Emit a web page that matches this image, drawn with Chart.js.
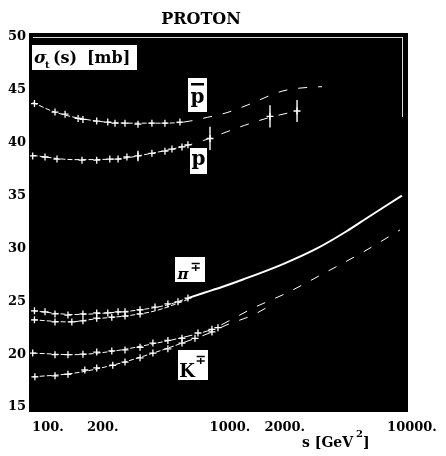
<!DOCTYPE html>
<html>
<head>
<meta charset="utf-8">
<script src="https://cdn.jsdelivr.net/npm/chart.js@4.4.1/dist/chart.umd.min.js"></script>
<style>
  html, body { margin: 0; padding: 0; background: #fff; }
</style>
</head>
<body>
<canvas id="chart" width="446" height="456"></canvas>
<script>
// total cross sections sigma_t [mb] vs s [GeV^2]
const xTicks = [100, 200, 1000, 2000, 10000];
const yTicks = [15, 20, 25, 30, 35, 40, 45, 50];

// pbar p
const pbarS   = [91, 118, 134, 158, 168, 200, 230, 252, 286, 337, 402, 474, 573];
const pbarSig = [43.7, 42.9, 42.7, 42.3, 42.2, 42.05, 41.95, 41.85, 41.85, 41.75, 41.85, 41.85, 41.95];
const pbarFitS   = [89, 120, 200, 300, 450, 600, 810, 1040, 1340, 2110, 2970, 3460];
const pbarFitSig = [43.8, 42.85, 42.05, 41.85, 41.85, 41.95, 42.4, 42.85, 43.55, 44.9, 45.25, 45.3];

// p p
const pS   = [89, 104, 121, 166, 200, 236, 262, 293, 337, 402, 474, 518, 588, 634, 838, 1790, 2520];
const pSig = [38.75, 38.65, 38.45, 38.35, 38.35, 38.45, 38.45, 38.65, 38.75, 39.0, 39.2, 39.4, 39.6, 39.8, 40.4, 42.5, 43.0];
const pErr = [0, 0, 0, 0, 0, 0, 0, 0, 0.5, 0, 0, 0, 0, 0, 1.1, 1.05, 1.05];
const pFitS   = [89, 150, 250, 400, 600, 770, 990, 1300, 1790, 2520];
const pFitSig = [38.8, 38.4, 38.45, 39.0, 39.65, 40.2, 40.9, 41.65, 42.4, 43.0];

// pi- p and pi+ p
const piMinusS   = [91, 104, 118, 139, 168, 200, 230, 262, 286, 346, 418, 492, 559, 634];
const piMinusSig = [24.1, 24.0, 23.8, 23.7, 23.8, 23.9, 23.9, 24.0, 24.0, 24.2, 24.45, 24.75, 24.95, 25.3];
const piFitS   = [89, 150, 250, 350, 500, 634, 786, 975, 1272, 2110, 3243, 4742, 6105, 9500];
const piFitSig = [24.1, 23.75, 23.95, 24.2, 24.7, 25.3, 25.83, 26.35, 27.06, 28.52, 30.0, 31.65, 32.88, 35.0];
const piPlusS   = [91, 118, 146, 168, 200, 242, 286, 346];
const piPlusSig = [23.25, 23.05, 23.05, 23.15, 23.4, 23.5, 23.6, 23.8];
const piPlusFitS   = [89, 140, 200, 300, 420, 640];
const piPlusFitSig = [23.25, 23.05, 23.35, 23.65, 24.1, 25.2];

// K- p and K+ p
const kMinusS   = [89, 118, 139, 168, 200, 242, 286, 346, 407, 492, 588, 720, 859];
const kMinusSig = [20.1, 19.95, 19.95, 20.0, 20.2, 20.3, 20.4, 20.65, 21.05, 21.3, 21.5, 22.0, 22.35];
const kMinusFitS   = [89, 150, 250, 400, 600, 860, 1013, 1443, 2220, 3500, 5800, 9270];
const kMinusFitSig = [20.1, 19.95, 20.3, 20.95, 21.6, 22.35, 22.95, 24.35, 25.8, 27.6, 29.65, 31.75];
const kPlusS   = [91.5, 118, 139, 172, 200, 245, 286, 346, 407, 492, 588, 693, 859, 927];
const kPlusSig = [17.85, 17.95, 18.1, 18.5, 18.7, 18.95, 19.25, 19.65, 20.1, 20.5, 21.05, 21.5, 22.1, 22.5];
const kPlusFitS   = [89, 150, 250, 400, 600, 860, 1013, 1443, 1800];
const kPlusFitSig = [17.85, 18.2, 19.0, 20.05, 21.1, 22.1, 22.7, 23.7, 24.6];

const pts = (xs, ys) => xs.map((v, i) => ({ x: v, y: ys[i] }));

const dashFit = (ctx) => (ctx.p0.parsed.x >= 600 ? [9, 11] : [5, 2]);

function fit(xs, ys, extra) {
  return Object.assign({
    type: 'line',
    data: pts(xs, ys),
    borderColor: '#fff',
    borderWidth: 1,
    pointRadius: 0,
    cubicInterpolationMode: 'monotone',
    segment: { borderDash: dashFit },
  }, extra || {});
}

function marks(xs, ys, errs) {
  return {
    type: 'line',
    data: pts(xs, ys),
    showLine: false,
    pointStyle: 'cross',
    pointRadius: 3.5,
    pointBorderWidth: 1.3,
    pointBorderColor: '#fff',
    errs: errs,
  };
}

const SERIF = '"DejaVu Serif", "Liberation Serif", serif';

const frame = {
  id: 'frame',
  beforeDraw(chart) {
    const { ctx, chartArea: a } = chart;
    ctx.save();
    ctx.fillStyle = '#000';
    ctx.fillRect(a.left - 1, a.top - 4, a.right - a.left + 3, a.bottom - a.top + 9);
    ctx.strokeStyle = 'rgba(255,255,255,0.85)';
    ctx.lineWidth = 1;
    ctx.beginPath();
    ctx.moveTo(a.left + 3, a.top + 0.5);
    ctx.lineTo(a.right - 3, a.top + 0.5);
    ctx.moveTo(a.right - 3.5, a.top);
    ctx.lineTo(a.right - 3.5, a.top + 80);
    ctx.stroke();
    ctx.restore();
  },
  afterDatasetsDraw(chart) {
    const { ctx, scales: { x, y } } = chart;
    // vertical error bars
    ctx.save();
    ctx.strokeStyle = '#fff';
    ctx.lineWidth = 1.4;
    chart.data.datasets.forEach((ds) => {
      if (!ds.errs) return;
      ds.data.forEach((pt, i) => {
        const e = ds.errs[i];
        if (!e) return;
        const px = x.getPixelForValue(pt.x);
        ctx.beginPath();
        ctx.moveTo(px, y.getPixelForValue(pt.y - e));
        ctx.lineTo(px, y.getPixelForValue(pt.y + e));
        ctx.stroke();
      });
    });

    // white label boxes
    ctx.fillStyle = '#fff';
    ctx.fillRect(32, 45, 105, 25);
    ctx.fillRect(188, 78, 19, 34);
    ctx.fillRect(190, 148, 17, 26);
    ctx.fillRect(175, 257, 30, 25);
    ctx.fillRect(178, 350, 30, 30);

    ctx.fillStyle = '#000';
    ctx.textBaseline = 'alphabetic';
    ctx.textAlign = 'left';
    ctx.font = 'italic bold 17px ' + SERIF;
    ctx.fillText('σ', 34, 63);
    ctx.font = 'bold 10px ' + SERIF;
    ctx.fillText('t', 45, 68);
    ctx.font = 'bold 16px ' + SERIF;
    ctx.fillText('(s)', 53, 63);
    ctx.fillText('[mb]', 87, 63);

    ctx.textAlign = 'center';
    ctx.font = 'bold 20px ' + SERIF;
    ctx.fillText('p', 197.5, 103);
    ctx.fillRect(191, 83, 13, 2.5);
    ctx.fillText('p', 198.5, 165);

    ctx.font = 'italic bold 15px ' + SERIF;
    ctx.fillText('π', 183, 279);
    ctx.font = 'bold 13px "DejaVu Sans", sans-serif';
    ctx.fillText('∓', 196, 271);

    ctx.font = 'bold 18px ' + SERIF;
    ctx.fillText('K', 187, 377);
    ctx.font = 'bold 13px "DejaVu Sans", sans-serif';
    ctx.fillText('∓', 201, 364);
    ctx.restore();
  },
  afterDraw(chart) {
    const { ctx } = chart;
    ctx.save();
    ctx.fillStyle = '#000';
    ctx.textBaseline = 'alphabetic';
    ctx.textAlign = 'center';
    ctx.font = 'bold 16px ' + SERIF;
    ctx.fillText('PROTON', 201, 24);

    ctx.textAlign = 'left';
    ctx.font = 'bold 14px ' + SERIF;
    ctx.fillText('s [GeV', 302, 447);
    let w = ctx.measureText('s [GeV').width;
    ctx.font = 'bold 10px ' + SERIF;
    ctx.fillText('2', 302 + w + 3, 437);
    const w2 = ctx.measureText('2').width;
    ctx.font = 'bold 14px ' + SERIF;
    ctx.fillText(']', 302 + w + 3 + w2, 447);
    ctx.restore();
  },
};

new Chart(document.getElementById('chart'), {
  type: 'line',
  data: {
    datasets: [
      fit(pbarFitS, pbarFitSig),
      fit(pFitS, pFitSig),
      fit(piFitS, piFitSig, {
        segment: {
          borderDash: (ctx) => (ctx.p0.parsed.x >= 600 ? [] : [5, 2]),
          borderWidth: (ctx) => (ctx.p0.parsed.x >= 600 ? 2 : 1),
        },
      }),
      fit(piPlusFitS, piPlusFitSig),
      fit(kMinusFitS, kMinusFitSig),
      fit(kPlusFitS, kPlusFitSig),
      marks(pbarS, pbarSig),
      marks(pS, pSig, pErr),
      marks(piMinusS, piMinusSig),
      marks(piPlusS, piPlusSig),
      marks(kMinusS, kMinusSig),
      marks(kPlusS, kPlusSig),
    ],
  },
  options: {
    responsive: false,
    animation: false,
    devicePixelRatio: 1,
    layout: { padding: { top: 37, right: 40, left: 0, bottom: 0 } },
    plugins: {
      legend: { display: false },
      tooltip: { enabled: false },
    },
    scales: {
      x: {
        type: 'logarithmic',
        min: 86,
        max: 10000,
        afterBuildTicks: (s) => { s.ticks = xTicks.map((v) => ({ value: v })); },
        afterFit: (s) => { s.height = 49; },
        grid: { display: false, drawTicks: false },
        border: { display: false },
        ticks: {
          autoSkip: false,
          maxRotation: 0,
          padding: 13,
          labelOffset: 6,
          color: '#000',
          font: { family: SERIF, weight: 'bold', size: 13 },
          callback: (v) => v + '.',
        },
      },
      y: {
        type: 'linear',
        min: 15,
        max: 50,
        afterBuildTicks: (s) => { s.ticks = yTicks.map((v) => ({ value: v })); },
        afterFit: (s) => { s.width = 30; },
        grid: { display: false, drawTicks: false },
        border: { display: false },
        ticks: {
          padding: 4,
          color: '#000',
          font: { family: SERIF, weight: 'bold', size: 13 },
        },
      },
    },
  },
  plugins: [frame],
});
</script>
</body>
</html>
